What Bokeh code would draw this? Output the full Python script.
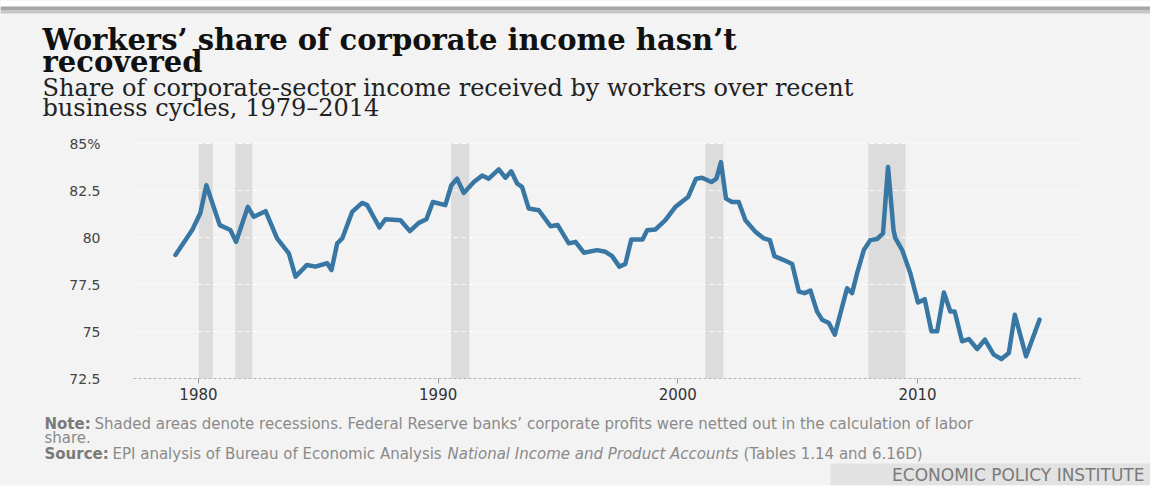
from bokeh.plotting import figure
from bokeh.models import Label, BoxAnnotation, FixedTicker, Range1d
from bokeh.layouts import column
from bokeh.embed import file_html
from bokeh.resources import INLINE

# ---- data ----
years = [1979.04, 1979.74, 1980.08, 1980.33, 1980.89, 1981.33, 1981.57, 1982.06, 1982.31, 1982.80,
         1983.28, 1983.77, 1984.05, 1984.53, 1984.88, 1985.37, 1985.55, 1985.79, 1986.00, 1986.41,
         1986.83, 1987.04, 1987.55, 1987.80, 1988.43, 1988.82, 1989.19, 1989.51, 1989.78, 1990.30,
         1990.55, 1990.79, 1991.07, 1991.49, 1991.84, 1992.11, 1992.53, 1992.81, 1993.05, 1993.30,
         1993.50, 1993.78, 1994.20, 1994.69, 1994.99, 1995.45, 1995.73, 1996.08, 1996.63, 1996.98,
         1997.26, 1997.56, 1997.81, 1998.06, 1998.53, 1998.72, 1999.07, 1999.48, 1999.90, 2000.25,
         2000.43, 2000.76, 2001.01, 2001.40, 2001.61, 2001.80, 2002.01, 2002.26, 2002.54, 2002.82,
         2003.24, 2003.59, 2003.84, 2004.03, 2004.42, 2004.77, 2005.05, 2005.29, 2005.53, 2005.81,
         2006.02, 2006.30, 2006.55, 2007.06, 2007.27, 2007.48, 2007.76, 2008.03, 2008.31, 2008.56,
         2008.77, 2009.00, 2009.08, 2009.36, 2009.70, 2010.02, 2010.30, 2010.58, 2010.82, 2011.10,
         2011.37, 2011.55, 2011.86, 2012.14, 2012.49, 2012.81, 2013.18, 2013.50, 2013.81, 2014.06,
         2014.53, 2015.09]
share = [79.07, 80.40, 81.30, 82.78, 80.66, 80.40, 79.77, 81.63, 81.10, 81.40,
         79.95, 79.16, 77.92, 78.54, 78.45, 78.63, 78.27, 79.69, 79.95, 81.36,
         81.84, 81.72, 80.53, 80.97, 80.92, 80.34, 80.78, 80.97, 81.89, 81.72,
         82.78, 83.13, 82.37, 82.95, 83.30, 83.13, 83.62, 83.18, 83.52, 82.86,
         82.69, 81.54, 81.45, 80.60, 80.66, 79.69, 79.77, 79.19, 79.33, 79.24,
         79.01, 78.45, 78.59, 79.90, 79.90, 80.39, 80.43, 80.92, 81.63, 81.98,
         82.16, 83.13, 83.18, 82.95, 83.13, 84.01, 82.07, 81.89, 81.89, 80.92,
         80.30, 79.95, 79.86, 79.01, 78.80, 78.59, 77.12, 77.04, 77.18, 76.06,
         75.63, 75.45, 74.83, 77.30, 77.04, 78.10, 79.33, 79.86, 79.92, 80.22,
         83.75, 80.39, 79.95, 79.33, 78.10, 76.54, 76.72, 75.01, 75.01, 77.07,
         76.06, 76.06, 74.48, 74.60, 74.07, 74.57, 73.77, 73.54, 73.86, 75.89,
         73.68, 75.63]

rec_start = [1980.01, 1981.54, 1990.54, 2001.15, 2007.95]
rec_end = [1980.60, 1982.24, 1991.30, 2001.90, 2009.50]

y_ticks = [72.5, 75, 77.5, 80, 82.5, 85]
y_tick_labels = ["72.5", "75", "77.5", "80", "82.5", "85%"]
x_ticks = [1980, 1990, 2000, 2010]
x_tick_labels = ["1980", "1990", "2000", "2010"]

W, H = 1150, 487
BG = "#f3f3f3"
TOP_H, CHART_H = 130, 280
FOOT_H = H - TOP_H - CHART_H


def text_panel(h):
    f = figure(width=W, height=h, output_backend="svg", toolbar_location=None,
               x_range=Range1d(0, W), y_range=Range1d(h, 0),
               x_axis_type=None, y_axis_type=None, min_border=0)
    f.frame_align = False
    f.background_fill_color = BG
    f.border_fill_color = BG
    f.outline_line_color = None
    return f


def lab(f, text, x, y, size, font="DejaVu Sans", style="normal", color="#111111", align="left"):
    # y is the wanted baseline (page pixels in the panel); compensate the renderer's baseline shift
    f.add_layout(Label(x=x, y=y - 0.35 * size, text=text, text_font=font, text_font_size=f"{size}px",
                       text_font_style=style, text_color=color, text_align=align,
                       text_baseline="alphabetic"))


def box(f, l, r, t, b, color):
    f.add_layout(BoxAnnotation(left=l, right=r, top=t, bottom=b, fill_color=color,
                               fill_alpha=1, line_color=None, level="underlay"))


# ---- header ----
top = text_panel(TOP_H)
box(top, 0, W, 0, 6, "#ffffff")
box(top, 0, W, 6, 10, "#a6a6a6")
box(top, 0, W, 10, 13, "#c6c6c6")
lab(top, "Workers\u2019 share of corporate income hasn\u2019t", 42, 50, 29, font="DejaVu Serif", style="bold")
lab(top, "recovered", 42, 72, 29, font="DejaVu Serif", style="bold")
lab(top, "Share of corporate-sector income received by workers over recent", 42, 96, 24,
    font="DejaVu Serif", color="#222222")
lab(top, "business cycles, 1979\u20132014", 42, 116, 24, font="DejaVu Serif", color="#222222")

# ---- chart ----
p = figure(width=W, height=CHART_H, output_backend="svg", toolbar_location=None,
           x_range=Range1d(1977.29, 2016.80), y_range=Range1d(72.5, 85.16),
           min_border_left=133, min_border_right=70, min_border_top=10, min_border_bottom=32)
p.frame_align = False
p.background_fill_color = BG
p.border_fill_color = BG
p.outline_line_color = None

bands = p.quad(left=rec_start, right=rec_end, bottom=72.5, top=85.0,
               fill_color="#dcdcdc", line_color=None)
bands.level = "image"

p.line(years, share, line_color="#3877a4", line_width=4.5, line_join="round", line_cap="round")

p.xaxis.ticker = FixedTicker(ticks=x_ticks)
p.xaxis.major_label_overrides = dict(zip(x_ticks, x_tick_labels))
p.xaxis.axis_line_color = "#b5b5b5"
p.xaxis.axis_line_dash = "3 2"
p.xaxis.major_tick_line_color = "#999999"
p.xaxis.major_tick_out = 5
p.xaxis.major_tick_in = 0
p.xaxis.minor_tick_line_color = None
p.xaxis.major_label_text_font = "DejaVu Sans"
p.xaxis.major_label_text_font_size = "15px"
p.xaxis.major_label_text_color = "#333333"
p.xaxis.major_label_standoff = 4

p.yaxis.ticker = FixedTicker(ticks=y_ticks)
p.yaxis.major_label_overrides = dict(zip(y_ticks, y_tick_labels))
p.yaxis.axis_line_color = None
p.yaxis.major_tick_line_color = None
p.yaxis.minor_tick_line_color = None
p.yaxis.major_label_text_font = "DejaVu Sans"
p.yaxis.major_label_text_font_size = "14px"
p.yaxis.major_label_text_color = "#444444"
p.yaxis.major_label_standoff = 27

p.xgrid.grid_line_color = None
p.ygrid.grid_line_color = "#ffffff"
p.ygrid.grid_line_dash = "4 4"
p.ygrid.grid_line_alpha = 0.9

# ---- footer ----
foot = text_panel(FOOT_H)
o = TOP_H + CHART_H  # page y of footer top
box(foot, 830, W, 463 - o, 485 - o, "#e2e2e2")
box(foot, 0, W, 485 - o, FOOT_H, "#ffffff")
lab(foot, "Note:", 44, 429 - o, 15, style="bold", color="#7a7a7a")
lab(foot, "Shaded areas denote recessions. Federal Reserve banks\u2019 corporate profits were netted out in the calculation of labor",
    94, 429 - o, 15, color="#8a8a8a")
lab(foot, "share.", 44, 443 - o, 15, color="#8a8a8a")
lab(foot, "Source:", 44, 459 - o, 15, style="bold", color="#7a7a7a")
lab(foot, "EPI analysis of Bureau of Economic Analysis", 112, 459 - o, 15, color="#8a8a8a")
lab(foot, "National Income and Product Accounts", 447, 459 - o, 15, style="italic", color="#8a8a8a")
lab(foot, "(Tables 1.14 and 6.16D)", 743, 459 - o, 15, color="#8a8a8a")
lab(foot, "ECONOMIC POLICY INSTITUTE", 1144, 480 - o, 17, color="#7a7a7a", align="right")

layout = column(top, p, foot, spacing=0)
layout.styles = {"background-color": BG}
open("out.html", "w").write(file_html(layout, INLINE))
